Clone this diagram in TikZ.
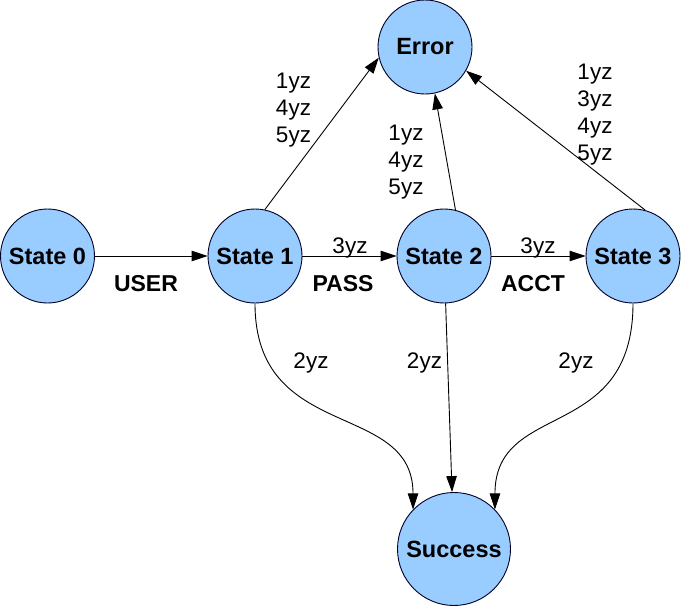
\documentclass[tikz,border=0pt]{standalone}
\usepackage{fontspec}
\setmainfont{Liberation Sans}
\usetikzlibrary{arrows.meta}
\begin{document}
\begin{tikzpicture}[x=1pt,y=-1pt,
  state/.style={circle,draw=black!85!blue,line width=0.9pt,fill=stfill,minimum size=94pt,inner sep=0pt,font=\fontsize{23.5}{27}\selectfont\bfseries},
  bigstate/.style={state,minimum size=113pt},
  edge/.style={line width=0.9pt,-{Triangle[length=16pt,width=10.5pt]}},
  lbl/.style={inner sep=0pt,font=\fontsize{22.5}{27}\selectfont,align=center},
  blbl/.style={inner sep=0pt,font=\fontsize{23}{27}\selectfont\bfseries}]
\definecolor{stfill}{HTML}{99CCFF}
\useasboundingbox (0,0) rectangle (681,606);
\node[state] (s0) at (47.5,256) {State 0};
\node[state] (s1) at (255,256) {State 1};
\node[state] (s2) at (444,256) {State 2};
\node[state] (s3) at (633,256) {State 3};
\node[state] (err) at (425,47) {Error};
\node[bigstate] (succ) at (454,549) {Success};
% horizontal
\draw[edge] (s0) -- (s1);
\draw[edge] (s1) -- (s2);
\draw[edge] (s2) -- (s3);
% to error
\draw[edge] (s1.78) -- (err.193);
\draw[edge] (s2.76) -- (err.282);
\draw[edge] (s3.75) -- (err.330);
% to success
\draw[edge] (s1.south) .. controls +(0,140) and +(0,-110) .. (succ.136);
\draw[edge] (s2) -- (succ);
\draw[edge] (s3.south) .. controls +(0,140) and +(0,-110) .. (succ.44);
% labels
\node[blbl,anchor=base] (lu) at (146,291) {USER};
\node[blbl,anchor=base] (lp) at (343,291) {PASS};
\node[blbl,anchor=base] (la) at (533,291) {ACCT};
\node[lbl,anchor=base] (l3a) at (350,253) {3yz};
\node[lbl,anchor=base] (l3b) at (538,253) {3yz};
\node[lbl] (le1) at (293.5,110) {1yz\\4yz\\5yz};
\node[lbl] (le2) at (406,162) {1yz\\4yz\\5yz};
\node[lbl] (le3) at (595,115) {1yz\\3yz\\4yz\\5yz};
\node[lbl,anchor=base] (ls1) at (311,368) {2yz};
\node[lbl,anchor=base] (ls2) at (424.5,368) {2yz};
\node[lbl,anchor=base] (ls3) at (576,368) {2yz};
\end{tikzpicture}
\end{document}
